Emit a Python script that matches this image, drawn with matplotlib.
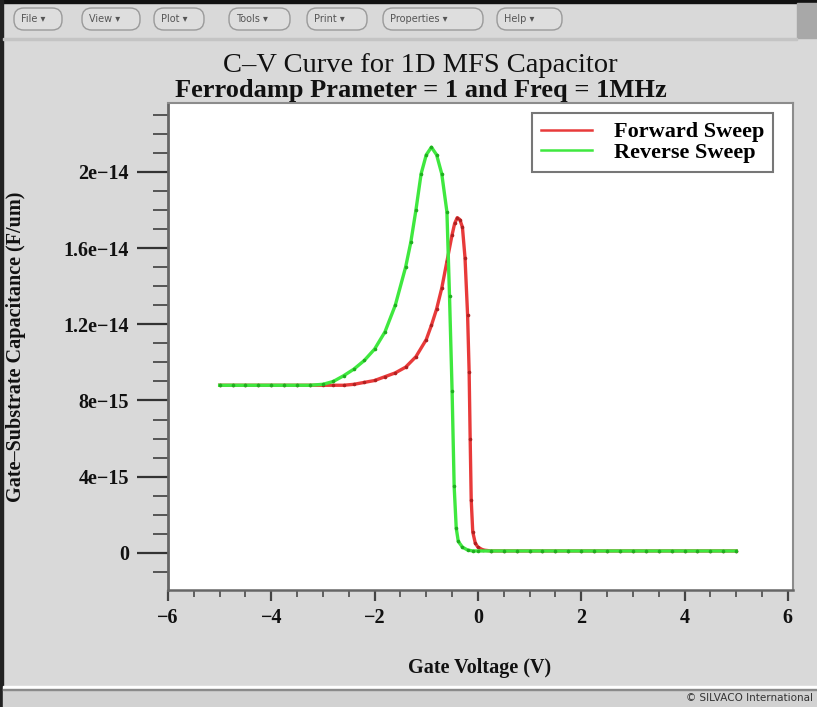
import matplotlib.pyplot as plt
from matplotlib.lines import Line2D
from matplotlib.patches import Rectangle, FancyBboxPatch
from matplotlib.ticker import MultipleLocator, FixedLocator, FixedFormatter

W, H = 817, 707

# forward sweep (gate voltage in V, capacitance in 1e-15 F/um)
fwd_v = [-5.0, -4.75, -4.5, -4.25, -4.0, -3.75, -3.5, -3.25, -3.0, -2.8, -2.6, -2.4,
         -2.2, -2.0, -1.8, -1.6, -1.4, -1.2, -1.0, -0.9, -0.8, -0.7, -0.6, -0.5,
         -0.45, -0.4, -0.35, -0.3, -0.25, -0.2, -0.17, -0.15, -0.13, -0.1, -0.05, 0.0,
         0.1, 0.25, 0.5, 0.75, 1.0, 1.25, 1.5, 1.75, 2.0, 2.25, 2.5, 2.75, 3.0,
         3.25, 3.5, 3.75, 4.0, 4.25, 4.5, 4.75, 5.0]
fwd_c = [8.8, 8.8, 8.8, 8.8, 8.8, 8.8, 8.8, 8.8, 8.8, 8.8, 8.8, 8.85,
         8.95, 9.05, 9.25, 9.45, 9.75, 10.3, 11.2, 11.95, 12.8, 13.9, 15.3, 16.7,
         17.3, 17.6, 17.5, 17.1, 15.5, 12.5, 9.5, 6.0, 2.8, 1.1, 0.5, 0.3,
         0.15, 0.1, 0.1, 0.1, 0.1, 0.1, 0.1, 0.1, 0.1, 0.1, 0.1, 0.1, 0.1,
         0.1, 0.1, 0.1, 0.1, 0.1, 0.1, 0.1, 0.1]

# reverse sweep
rev_v = [-5.0, -4.75, -4.5, -4.25, -4.0, -3.75, -3.5, -3.25, -3.0, -2.8, -2.6, -2.4,
         -2.2, -2.0, -1.8, -1.6, -1.4, -1.3, -1.2, -1.1, -1.0, -0.9, -0.8, -0.7,
         -0.6, -0.55, -0.5, -0.46, -0.42, -0.38, -0.3, -0.2, -0.1, 0.0,
         0.25, 0.5, 0.75, 1.0, 1.25, 1.5, 1.75, 2.0, 2.25, 2.5, 2.75, 3.0,
         3.25, 3.5, 3.75, 4.0, 4.25, 4.5, 4.75, 5.0]
rev_c = [8.8, 8.8, 8.8, 8.8, 8.8, 8.8, 8.8, 8.8, 8.85, 9.0, 9.3, 9.65,
         10.1, 10.7, 11.6, 13.0, 15.0, 16.3, 18.0, 19.9, 20.9, 21.3, 20.9, 19.9,
         17.9, 13.5, 8.5, 3.5, 1.3, 0.6, 0.3, 0.15, 0.1, 0.1,
         0.1, 0.1, 0.1, 0.1, 0.1, 0.1, 0.1, 0.1, 0.1, 0.1, 0.1, 0.1,
         0.1, 0.1, 0.1, 0.1, 0.1, 0.1, 0.1, 0.1]

x_ticks = [-6, -4, -2, 0, 2, 4, 6]
x_tick_labels = ['\u22126', '\u22124', '\u22122', '0', '2', '4', '6']
y_ticks = [0, 4e-15, 8e-15, 1.2e-14, 1.6e-14, 2e-14]
y_tick_labels = ['0', '4e\u221215', '8e\u221215', '1.2e\u221214', '1.6e\u221214', '2e\u221214']

menu_items = ['File', 'View', 'Plot', 'Tools', 'Print', 'Properties', 'Help']
menu_x = [(14, 62), (82, 140), (154, 204), (229, 290), (307, 367), (383, 483), (497, 562)]

title1 = 'C\u2013V Curve for 1D MFS Capacitor'
title2 = 'Ferrodamp Prameter = 1 and Freq = 1MHz'

SERIF = 'Liberation Serif'


def fx(x):
    return x / W


def fy(y):
    return 1 - y / H


fig = plt.figure(figsize=(W / 100, H / 100), dpi=100)
fig.patch.set_facecolor('#d9d9d9')

# window chrome
fig.patches.append(Rectangle((0, fy(3)), 1, 3 / H, transform=fig.transFigure,
                             color='#111111', zorder=0))
fig.patches.append(Rectangle((0, 0), 3 / W, 1, transform=fig.transFigure,
                             color='#222222', zorder=0))
fig.patches.append(Rectangle((fx(797), fy(38)), 20 / W, 35 / H, transform=fig.transFigure,
                             color='#a8a8a8', zorder=0))
fig.patches.append(Rectangle((fx(3), fy(40)), 794 / W, 1.5 / H, transform=fig.transFigure,
                             color='#c4c4c4', zorder=0))
for name, (x0, x1) in zip(menu_items, menu_x):
    fig.patches.append(FancyBboxPatch((fx(x0), fy(30)), (x1 - x0) / W, 22 / H,
                                      boxstyle='round,pad=0,rounding_size=0.012',
                                      mutation_aspect=W / H,
                                      transform=fig.transFigure, facecolor='#dedede',
                                      edgecolor='#9a9a9a', linewidth=1.0, zorder=1))
    fig.text(fx(x0 + 7), fy(19), name + ' \u25be', fontsize=7, color='#555555',
             ha='left', va='center', family='DejaVu Sans')

# status bar
fig.patches.append(Rectangle((fx(3), 0), 814 / W, 19 / H, transform=fig.transFigure,
                             color='#d2d2d2', zorder=0))
fig.patches.append(Rectangle((fx(3), fy(688)), 814 / W, 2 / H, transform=fig.transFigure,
                             color='#ffffff', zorder=0))
fig.patches.append(Rectangle((fx(3), fy(690)), 814 / W, 1.5 / H, transform=fig.transFigure,
                             color='#8a8a8a', zorder=0))
fig.text(fx(813), fy(698), '\u00a9 SILVACO International', fontsize=7.5, color='#333333',
         ha='right', va='center', family='DejaVu Sans')

ax = fig.add_axes([fx(168), fy(590), 625 / W, 487 / H])
ax.set_facecolor('white')

fwd_y = [c * 1e-15 for c in fwd_c]
rev_y = [c * 1e-15 for c in rev_c]
ax.plot(fwd_v, fwd_y, color='#e83a3a', lw=2.4, marker='o', ms=2.6,
        mfc='#b02020', mew=0, zorder=3)
ax.plot(rev_v, rev_y, color='#3fe83f', lw=2.4, marker='o', ms=2.6,
        mfc='#1fae1f', mew=0, zorder=4)

ax.set_xlim(-6, 6.1)
ax.set_ylim(-1.95e-15, 2.362e-14)

ax.xaxis.set_major_locator(FixedLocator(x_ticks))
ax.xaxis.set_major_formatter(FixedFormatter(x_tick_labels))
ax.xaxis.set_minor_locator(MultipleLocator(0.5))
ax.yaxis.set_major_locator(FixedLocator(y_ticks))
ax.yaxis.set_major_formatter(FixedFormatter(y_tick_labels))
ax.yaxis.set_minor_locator(MultipleLocator(1e-15))

ax.tick_params(axis='x', which='major', direction='out', length=8, width=1.6,
               color='#444444', pad=5)
ax.tick_params(axis='x', which='minor', direction='out', length=5, width=1.3,
               color='#555555')
ax.tick_params(axis='y', which='major', direction='out', length=22, width=1.6,
               color='#333333', pad=6)
ax.tick_params(axis='y', which='minor', direction='out', length=11, width=1.4,
               color='#555555')
for lab in ax.get_xticklabels() + ax.get_yticklabels():
    lab.set_family(SERIF)
    lab.set_fontweight('bold')
    lab.set_fontsize(14.5)
    lab.set_color('#111111')

ax.spines['left'].set_color('#666666')
ax.spines['left'].set_linewidth(2)
ax.spines['bottom'].set_color('#666666')
ax.spines['bottom'].set_linewidth(1.8)
ax.spines['top'].set_color('#8c8c8c')
ax.spines['top'].set_linewidth(1.5)
ax.spines['right'].set_color('#8c8c8c')
ax.spines['right'].set_linewidth(1.5)

handles = [Line2D([], [], color='#e83a3a', lw=1.8),
           Line2D([], [], color='#3fe83f', lw=1.8)]
leg = ax.legend(handles, ['Forward Sweep', 'Reverse Sweep'],
                loc='upper left', bbox_to_anchor=(fx(532), fy(113)),
                bbox_transform=fig.transFigure, frameon=True, fancybox=False,
                handlelength=2.3, handletextpad=1.0, labelspacing=0.0,
                borderpad=0.4, borderaxespad=0,
                prop={'family': SERIF, 'weight': 'bold', 'size': 16})
leg.get_frame().set_edgecolor('#555555')
leg.get_frame().set_linewidth(1.5)

fig.text(fx(420), fy(66), title1, ha='center', va='center', fontsize=20.5,
         family=SERIF, color='#111111')
fig.text(fx(421), fy(91), title2, ha='center', va='center', fontsize=19,
         family=SERIF, fontweight='bold', color='#111111')
fig.text(fx(16), fy(347), 'Gate\u2013Substrate Capacitance (F/um)', rotation=90,
         ha='center', va='center', fontsize=14.5, family=SERIF, fontweight='bold',
         color='#111111')
fig.text(fx(480), fy(668), 'Gate Voltage (V)', ha='center', va='center', fontsize=14.5,
         family=SERIF, fontweight='bold', color='#111111')

fig.savefig('out.png', dpi=100, facecolor=fig.get_facecolor())
